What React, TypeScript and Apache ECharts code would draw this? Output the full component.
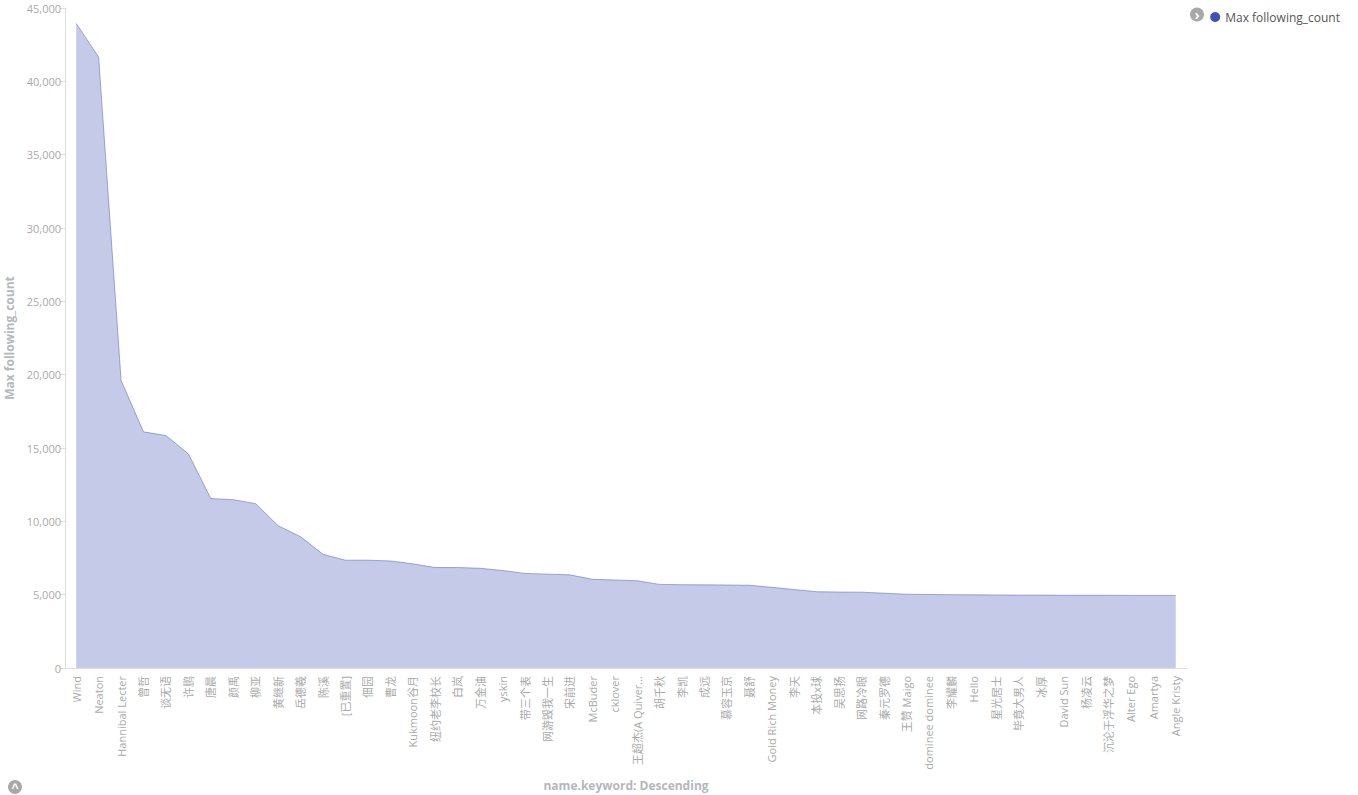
import React, { useEffect, useRef } from "react";
import * as echarts from "echarts";

const categories: string[] = [
  "Wind", "Neaton", "Hannibal Lecter", "曾哲", "谈无语", "许鹏", "唐晨", "颜禹", "柳亚", "黄继新",
  "岳德羲", "陈溪", "[已重置]", "佃园", "曹龙", "Kukmoon谷月", "纽约老李校长", "白岚", "万金油", "yskin",
  "带三个表", "网游毁我一生", "宋前进", "McBuder", "cklover", "王超杰(A Quiver...", "胡千秋", "李凯", "成远", "慕容玉京",
  "聂舒", "Gold Rich Money", "李天", "本投x球", "吴思扬", "网路冷眼", "秦元罗德", "王赞 Maigo", "dominee dominee", "李耀麟",
  "Hello", "星光居士", "毕竟大男人", "冰厚", "David Sun", "杨凌云", "沉沦于浮华之梦", "Alter Ego", "Amartya", "Angle Kristy",
];

const maxFollowingCount: number[] = [
  43950, 41650, 19600, 16100, 15850, 14600, 11550, 11480, 11200, 9700,
  8950, 7750, 7350, 7350, 7300, 7100, 6850, 6850, 6800, 6650,
  6450, 6400, 6350, 6050, 6000, 5950, 5700, 5680, 5670, 5660,
  5640, 5500, 5350, 5200, 5180, 5170, 5100, 5030, 5010, 5000,
  4990, 4980, 4970, 4970, 4960, 4960, 4960, 4950, 4950, 4950,
];

const seriesName = "Max following_count";
const xAxisName = "name.keyword: Descending";

export default function App() {
  const ref = useRef<HTMLDivElement>(null);
  useEffect(() => {
    if (!ref.current) return;
    const chart = echarts.init(ref.current, undefined, { renderer: "svg" });
    const font = "'Open Sans', 'Noto Sans CJK SC', sans-serif";
    chart.setOption({
      animation: false,
      textStyle: { fontFamily: font },
      grid: { left: 65, right: 171, top: 8, bottom: 127, containLabel: false, outerBoundsMode: "none" },
      legend: {
        data: [seriesName],
        right: 13,
        top: 6,
        icon: "circle",
        itemWidth: 10,
        itemHeight: 10,
        itemGap: 5,
        textStyle: { color: "#555", fontSize: 12, fontFamily: font },
      },
      xAxis: {
        type: "category",
        data: categories,
        boundaryGap: true,
        name: xAxisName,
        nameLocation: "middle",
        nameGap: 111,
        nameTextStyle: { color: "#b4b7bb", fontSize: 12, fontWeight: "bold", fontFamily: font },
        axisLine: { lineStyle: { color: "#ddd" } },
        axisTick: { alignWithLabel: true, length: 5, lineStyle: { color: "#ddd" } },
        axisLabel: { rotate: 90, interval: 0, color: "#aaa", fontSize: 11, margin: 8, fontFamily: font },
      },
      yAxis: {
        type: "value",
        min: 0,
        max: 45000,
        interval: 5000,
        name: seriesName,
        nameLocation: "middle",
        nameGap: 45,
        nameTextStyle: { color: "#b4b7bb", fontSize: 12, fontWeight: "bold", fontFamily: font },
        axisLine: { show: true, lineStyle: { color: "#ddd" } },
        axisTick: { show: true, length: 5, lineStyle: { color: "#ddd" } },
        splitLine: { show: false },
        axisLabel: {
          color: "#aaa",
          fontSize: 11,
          margin: 4,
          fontFamily: font,
          formatter: (v: number) => v.toLocaleString("en-US"),
        },
      },
      series: [
        {
          name: seriesName,
          type: "line",
          data: maxFollowingCount,
          symbol: "none",
          showSymbol: false,
          color: "#3f51b5",
          lineStyle: { width: 1, color: "rgba(63,81,181,0.45)" },
          areaStyle: { color: "#3f51b5", opacity: 0.3 },
        },
      ],
      graphic: [
        {
          type: "group",
          left: 1190,
          top: 7,
          children: [
            { type: "circle", shape: { cx: 7, cy: 7, r: 7 }, style: { fill: "#a8a8a8" } },
            { type: "text", x: 7, y: 7, style: { text: "›", fill: "#fff", fontSize: 15, fontWeight: "bold", align: "center", verticalAlign: "middle" } },
          ],
        },
        {
          type: "group",
          left: 8,
          top: 780,
          children: [
            { type: "circle", shape: { cx: 7, cy: 7, r: 7 }, style: { fill: "#a8a8a8" } },
            { type: "text", x: 7, y: 8, style: { text: "^", fill: "#fff", fontSize: 12, fontWeight: "bold", align: "center", verticalAlign: "middle" } },
          ],
        },
      ],
    });
    return () => chart.dispose();
  }, []);
  return (
    <div
      ref={ref}
      style={{ position: "fixed", left: 0, top: 0, width: 1358, height: 795, background: "#fff" }}
    />
  );
}
